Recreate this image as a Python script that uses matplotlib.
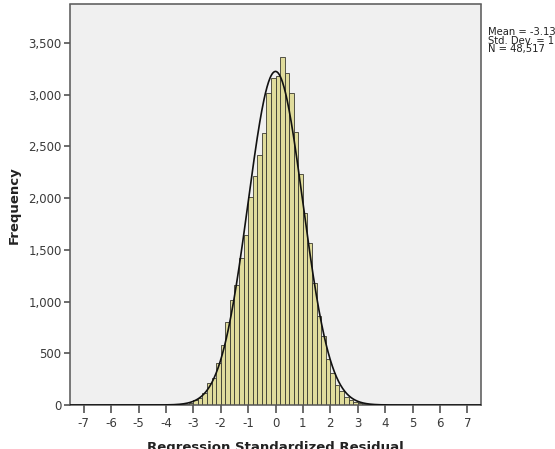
import numpy as np
import matplotlib
matplotlib.use("Agg")
import matplotlib.pyplot as plt
from matplotlib.ticker import FuncFormatter

# ---- data ----
BIN_WIDTH = 1.0 / 6.0
FIRST_BIN_LEFT = -4.0
COUNTS = [1, 2, 3, 6, 12, 20, 45, 68, 116, 213, 264, 406, 580, 806, 1015, 1160,
          1420, 1640, 2015, 2215, 2418, 2634, 3014, 3166,
          3182, 3364, 3213, 3016, 2641, 2231, 1860, 1570, 1178, 860, 668, 447,
          305, 197, 132, 82, 52, 32, 18, 11, 7, 4, 3, 2, 1, 1, 1]
MEAN = -3.13e-15
STD = 1.0
N = 48517
STATS_LINES = ["Mean = -3.13E-15", "Std. Dev. = 1.000", "N = 48,517"]
X_TICKS = list(range(-7, 8))
Y_TICKS = [0, 500, 1000, 1500, 2000, 2500, 3000, 3500]
X_LABEL = "Regression Standardized Residual"
Y_LABEL = "Frequency"

plt.rcParams['axes.unicode_minus'] = False
W, H = 555, 449
fig = plt.figure(figsize=(W / 100, H / 100), dpi=100)
ax = fig.add_axes([70 / W, 1 - 405 / H, (481 - 70) / W, (405 - 4.5) / H])
ax.set_facecolor('#F0F0F0')

lefts = FIRST_BIN_LEFT + np.arange(len(COUNTS)) * BIN_WIDTH
ax.bar(lefts, COUNTS, width=BIN_WIDTH, align='edge', color='#E0DC9C',
       edgecolor='#3a3a30', linewidth=0.6, zorder=2)

xs = np.linspace(-7.5, 7.5, 800)
ys = N * BIN_WIDTH / (STD * np.sqrt(2 * np.pi)) * np.exp(-0.5 * ((xs - MEAN) / STD) ** 2)
ax.plot(xs, ys, color='#111111', linewidth=1.2, zorder=3)

ax.set_xlim(-7.5, 7.5)
ax.set_ylim(0, 3873)
ax.set_xticks(X_TICKS)
ax.set_yticks(Y_TICKS)
ax.yaxis.set_major_formatter(FuncFormatter(lambda v, p: f"{int(v):,}"))
ax.xaxis.set_major_formatter(FuncFormatter(lambda v, p: f"{int(v)}"))
ax.tick_params(axis='x', length=6, width=1.1, color='#444444', pad=2.5,
               labelsize=8.5, labelcolor='#3a3a3a')
ax.tick_params(axis='y', length=4.5, width=1.1, color='#444444', pad=1.5,
               labelsize=8.5, labelcolor='#3a3a3a')
for s in ax.spines.values():
    s.set_color('#555555')
    s.set_linewidth(1.1)

fig.text(275.5 / W, 1 - 451 / H, X_LABEL, ha='center', va='baseline',
         fontsize=9.5, fontweight='bold', color='#222222')
fig.text(14 / W, 1 - 205 / H, Y_LABEL, ha='center', va='center', rotation=90,
         fontsize=9.5, fontweight='bold', color='#222222')
fig.text(488 / W, 1 - 27 / H, "\n".join(STATS_LINES), ha='left', va='top',
         fontsize=7.2, linespacing=0.82, color='#222222')

fig.savefig("out.png", dpi=100, facecolor='white')
